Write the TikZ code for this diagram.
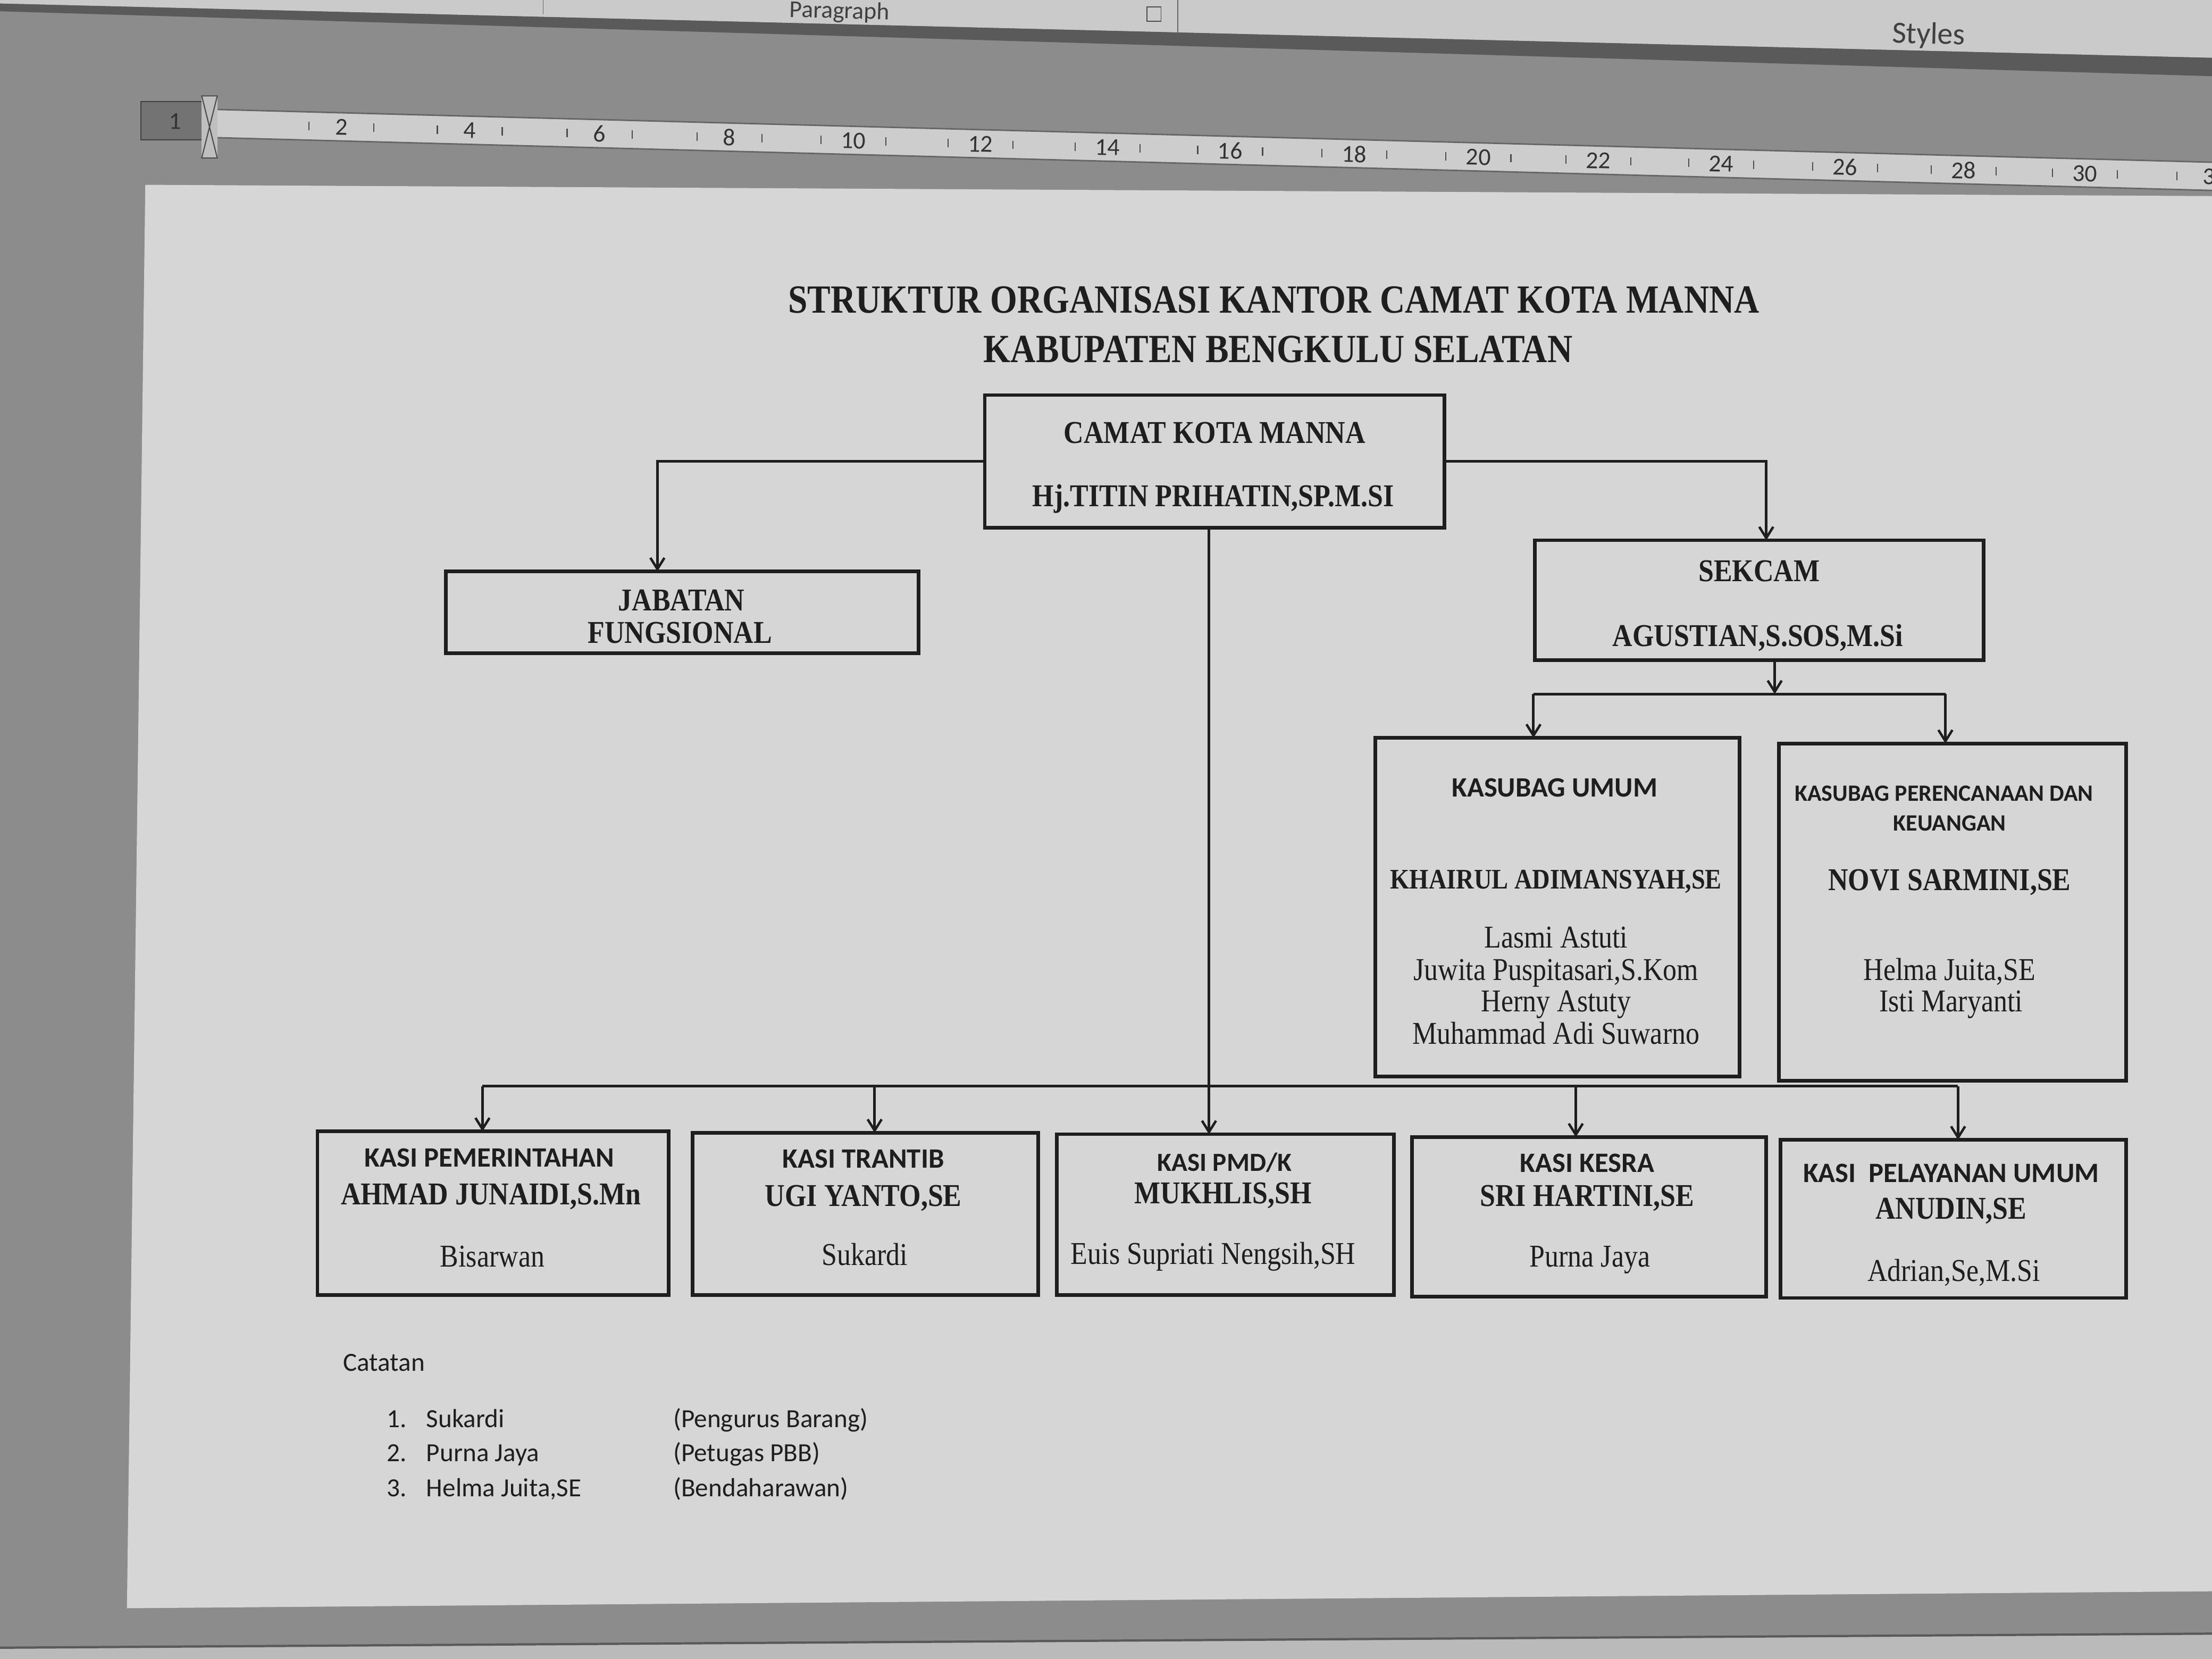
\documentclass[tikz,border=0pt]{standalone}
\usepackage{fontspec}
\setmainfont{Liberation Serif}
\newfontfamily\srf[FakeStretch=0.87]{Liberation Serif}
\newfontfamily\sns{Carlito}
\usetikzlibrary{arrows.meta,fit}
\definecolor{paper}{HTML}{D6D6D6}
\definecolor{ink}{HTML}{1E1E1E}
\definecolor{bg}{HTML}{8C8C8C}
\definecolor{tool}{HTML}{CACACA}
\definecolor{band}{HTML}{5A5A5A}
\definecolor{rulec}{HTML}{CDCDCD}
\definecolor{lowc}{HTML}{BABABA}
\tikzset{
  box/.style={draw=ink, line width=1.9pt, fill=paper, inner sep=0pt},
  t/.style={anchor=base, inner sep=0pt, text=ink},
  ttl/.style={t, font=\srf\bfseries\fontsize{21.4}{25}\selectfont},
  hb/.style={t, font=\srf\bfseries\fontsize{17}{20}\selectfont},
  hr/.style={t, font=\srf\fontsize{17}{20}\selectfont},
  hs/.style={t, font=\sns\bfseries\fontsize{15}{18}\selectfont},
  nt/.style={t, anchor=base west, font=\sns\fontsize{14}{17}\selectfont},
  rul/.style={inner sep=0pt, text=black!80, font=\sns\fontsize{13}{15}\selectfont, rotate=-1.5},
  line/.style={draw=ink, line width=1.4pt},
  conn/.style={line, -{Straight Barb[length=6pt,width=7.5pt,line width=1.3pt]}}
}
\begin{document}
\begin{tikzpicture}[x=0.026531cm,y=-0.026531cm]
\useasboundingbox (0,0) rectangle (1568,1176);
\clip (0,0) rectangle (1568,1176);
% background of the screen
\fill[bg] (0,0) rectangle (1568,1176);
\fill[tool] (0,0) -- (1568,0) -- (1568,41) -- (0,2.5) -- cycle;
\fill[band] (0,2.5) -- (1568,41) -- (1568,54) -- (0,8) -- cycle;
\draw[black!60, line width=0.5pt] (385,0) -- (385,10);
\draw[black!60, line width=0.5pt] (835,0) -- (835,24);
\draw[black!70, line width=0.5pt] (813,5) rectangle (823,15);
\node[t, anchor=base, font=\sns\fontsize{13}{15}\selectfont, text=black!75, rotate=-1.4] (para) at (595,13) {Paragraph};
\node[t, anchor=base, font=\sns\fontsize{16.5}{20}\selectfont, text=black!75, rotate=-1.4] (styl) at (1367,31) {Styles};
% ruler
\fill[black!55] (100,72) rectangle (150,99);
\draw[black!75, line width=0.6pt] (100,72) rectangle (150,99);
\fill[rulec] (150,77.5) -- (1568,115) -- (1568,135) -- (150,97.5) -- cycle;
\draw[black!60, line width=0.8pt] (150,77.5) -- (1568,115);
\draw[black!60, line width=0.8pt] (150,97.5) -- (1568,135);
\fill[black!25] (143,68) rectangle (154,112);
\draw[black!70, line width=0.6pt] (143,68) -- (154,68) -- (143,112) -- (154,112) -- cycle;
\foreach \n/\xx in {2/242,4/333,6/425,8/517,10/605,12/695,14/785,16/872,18/960,20/1048,22/1133,24/1220,26/1308,28/1392,30/1478,3/1566}{
  \node[rul] (r\xx) at (\xx,{90+(\xx-242)*0.0267}) {\n};
  \draw[black!70, line width=0.6pt] (\xx-23,{87+(\xx-265)*0.0267}) -- ++(0,6);
  \draw[black!70, line width=0.6pt] (\xx+23,{87+(\xx-219)*0.0267}) -- ++(0,6);
}
\node[rul] (r1) at (124,86) {1};
% page
\fill[paper] (103,131) -- (1568,139) -- (1568,1128) -- (90,1140) -- cycle;
\fill[lowc] (0,1168) -- (1568,1158) -- (1568,1176) -- (0,1176) -- cycle;
\draw[black!65, line width=1.2pt] (0,1168) -- (1568,1158);
% title
\node[ttl] (title1) at (903,222) {STRUKTUR ORGANISASI KANTOR CAMAT KOTA MANNA};
\node[ttl] (title2) at (906,257) {KABUPATEN BENGKULU SELATAN};
% boxes
\node[box, fit={(698,280) (1024,374)}] (camat) {};
\node[box, fit={(316,405) (651,463)}] (jab) {};
\node[box, fit={(1088,383) (1406,468)}] (sek) {};
\node[box, fit={(975,523) (1233,763)}] (umum) {};
\node[box, fit={(1261,527) (1507,766)}] (renc) {};
\node[box, fit={(225,802) (474,918)}] (pem) {};
\node[box, fit={(491,803) (736,918)}] (tra) {};
\node[box, fit={(749,804) (988,918)}] (pmd) {};
\node[box, fit={(1001,806) (1252,919)}] (kes) {};
\node[box, fit={(1262,808) (1507,920)}] (pel) {};
% arrival points
\coordinate (jabin) at (466,405);
\coordinate (sekin) at (1252,383);
\coordinate (umumin) at (1087,523);
\coordinate (rencin) at (1379,527);
\coordinate (pemin) at (342,802);
\coordinate (train) at (620,803);
\coordinate (pmdin) at (857,804);
\coordinate (kesin) at (1117,806);
\coordinate (pelin) at (1388,808);
\coordinate (busA) at (857,770);
\coordinate (sekbus) at (1258,492);
% connectors
\draw[conn] (camat.west) -| (jabin);
\draw[conn] (camat.east) -| (sekin);
\draw[conn] (camat.south -| pmdin) -- (pmdin);
\draw[line] (pemin |- busA) -- (pelin |- busA);
\foreach \p in {pemin,train,kesin,pelin} \draw[conn] (\p |- busA) -- (\p);
\draw[conn] (sek.south -| sekbus) -- (sekbus);
\draw[line] (umumin |- sekbus) -- (rencin |- sekbus);
\draw[conn] (umumin |- sekbus) -- (umumin);
\draw[conn] (rencin |- sekbus) -- (rencin);
% texts in boxes
\node[hb] (c1) at (861,314) {CAMAT KOTA MANNA};
\node[hb] (c2) at (860,359) {Hj.TITIN PRIHATIN,SP.M.SI};
\node[hb] (j1) at (483,433) {JABATAN};
\node[hb] (j2) at (482,456) {FUNGSIONAL};
\node[hb] (s1) at (1247,412) {SEKCAM};
\node[hb] (s2) at (1246,458) {AGUSTIAN,S.SOS,M.Si};
\node[hs] (u1) at (1102,565) {KASUBAG UMUM};
\node[hb, font=\srf\bfseries\fontsize{15.2}{18}\selectfont] (u2) at (1103,630) {KHAIRUL ADIMANSYAH,SE};
\node[hr] (u3) at (1103,672) {Lasmi Astuti};
\node[hr] (u4) at (1103,695) {Juwita Puspitasari,S.Kom};
\node[hr] (u5) at (1103,717) {Herny Astuty};
\node[hr] (u6) at (1103,740) {Muhammad Adi Suwarno};
\node[hs, font=\sns\bfseries\fontsize{12.5}{15}\selectfont] (k1) at (1378,568) {KASUBAG PERENCANAAN DAN};
\node[hs, font=\sns\bfseries\fontsize{12.5}{15}\selectfont] (k2) at (1382,589) {KEUANGAN};
\node[hb] (k3) at (1382,631) {NOVI SARMINI,SE};
\node[hr] (k4) at (1382,695) {Helma Juita,SE};
\node[hr] (k5) at (1383,717) {Isti Maryanti};
\node[hs] (p1) at (347,827) {KASI PEMERINTAHAN};
\node[hb] (p2) at (348,854) {AHMAD JUNAIDI,S.Mn};
\node[hr] (p3) at (349,898) {Bisarwan};
\node[hs] (tr1) at (612,828) {KASI TRANTIB};
\node[hb] (tr2) at (612,855) {UGI YANTO,SE};
\node[hr] (tr3) at (613,897) {Sukardi};
\node[hs, font=\sns\bfseries\fontsize{14}{17}\selectfont] (m1) at (868,830) {KASI PMD/K};
\node[hb] (m2) at (867,853) {MUKHLIS,SH};
\node[hr] (m3) at (860,896) {Euis Supriati Nengsih,SH};
\node[hs] (e1) at (1125,831) {KASI KESRA};
\node[hb] (e2) at (1125,855) {SRI HARTINI,SE};
\node[hr] (e3) at (1127,898) {Purna Jaya};
\node[hs] (l1) at (1383,838) {KASI\ \ PELAYANAN UMUM};
\node[hb] (l2) at (1383,864) {ANUDIN,SE};
\node[hr] (l3) at (1385,908) {Adrian,Se,M.Si};
% notes
\node[nt] (n0) at (243,972) {Catatan};
\node[nt] (n1a) at (274,1012) {1.};
\node[nt] (n1b) at (302,1012) {Sukardi};
\node[nt] (n1c) at (477,1012) {(Pengurus Barang)};
\node[nt] (n2a) at (274,1036) {2.};
\node[nt] (n2b) at (302,1036) {Purna Jaya};
\node[nt] (n2c) at (477,1036) {(Petugas PBB)};
\node[nt] (n3a) at (274,1061) {3.};
\node[nt] (n3b) at (302,1061) {Helma Juita,SE};
\node[nt] (n3c) at (477,1061) {(Bendaharawan)};
\end{tikzpicture}
\end{document}
